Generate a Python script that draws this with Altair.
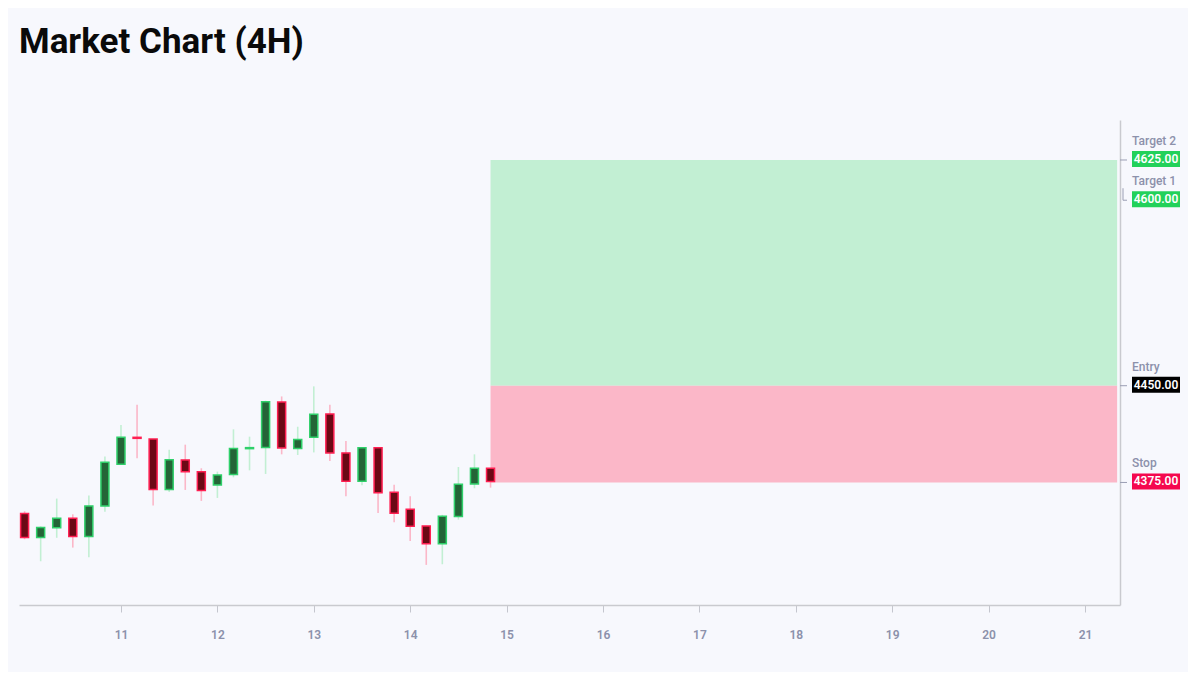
import altair as alt
import pandas as pd

# ---- data ----
opens  = [4350.9, 4332.3, 4339.8, 4347.2, 4333.1, 4356.8, 4389.1, 4410.0, 4408.7, 4369.5,
          4392.5, 4383.4, 4373.1, 4381.1, 4401.2, 4402.2, 4437.4, 4401.4, 4410.0, 4428.1,
          4397.9, 4375.9, 4402.0, 4367.4, 4354.2, 4341.3, 4327.4, 4348.6, 4373.9, 4386.0]
closes = [4332.3, 4340.0, 4347.2, 4333.1, 4356.8, 4390.6, 4410.0, 4409.2, 4369.5, 4392.7,
          4383.4, 4368.7, 4380.8, 4401.4, 4402.0, 4437.6, 4401.8, 4408.4, 4427.8, 4397.9,
          4375.9, 4402.0, 4367.1, 4351.1, 4341.0, 4327.4, 4348.8, 4373.6, 4386.0, 4375.7]
highs  = [4352.7, 4341.0, 4362.5, 4350.3, 4364.8, 4395.2, 4419.6, 4435.3, 4408.7, 4400.4,
          4404.3, 4386.0, 4383.4, 4416.2, 4410.5, 4438.4, 4441.7, 4418.2, 4449.5, 4435.3,
          4407.2, 4402.0, 4402.0, 4373.3, 4364.3, 4341.3, 4349.9, 4387.0, 4396.8, 4386.0]
lows   = [4331.0, 4313.9, 4332.1, 4324.5, 4317.0, 4352.2, 4389.1, 4393.7, 4357.1, 4367.7,
          4369.2, 4360.7, 4363.0, 4379.0, 4384.4, 4381.6, 4396.8, 4396.3, 4398.3, 4391.7,
          4364.3, 4372.8, 4351.4, 4344.1, 4329.7, 4311.1, 4311.6, 4346.2, 4370.5, 4371.0]
start_day = 10          # first candle: day 10, 00:00
bar_hours = 4

day_ticks = [11, 12, 13, 14, 15, 16, 17, 18, 19, 20, 21]

level_names  = ["Target 2", "Target 1", "Entry", "Stop"]
level_values = [4625, 4600, 4450, 4375]
level_colors = ["#22D15A", "#22D15A", "#000000", "#F5084E"]
level_shift  = [0, 1, 0, 0]      # 1 = label pushed down to avoid overlap

zone_start = 10 + 29 * 4 / 24    # last candle (day 14, 20:00)
zone_end = 21 + 8 / 24           # day 21, 08:00

# ---- tables ----
t = [start_day + i * bar_hours / 24 for i in range(len(opens))]
candles = pd.DataFrame({"t": t, "open": opens, "close": closes, "high": highs, "low": lows})
candles["dir"] = ["up" if c >= o else "down" for o, c in zip(opens, closes)]

zones = pd.DataFrame({
    "x": [zone_start, zone_start], "x2": [zone_end, zone_end],
    "y": [level_values[2], level_values[3]], "y2": [level_values[0], level_values[2]],
    "kind": ["profit", "loss"],
})
levels = pd.DataFrame({"name": level_names, "value": level_values,
                       "color": level_colors, "shift": level_shift})

W, H = 1101, 485
BG = "#F7F8FD"
GREY_TXT = "#8C91AB"
GREY_LINE = "#9A9EB3"

xscale = alt.Scale(domain=[9.942, 21.363], nice=False, zero=False, padding=0)
yscale = alt.Scale(domain=[4280, 4656], nice=False, zero=False, padding=0)

xaxis = alt.Axis(values=day_ticks, title=None, grid=False, format="d",
                 labelColor=GREY_TXT, labelFontSize=12, labelFontWeight=600,
                 labelFont="Roboto", labelPadding=17, tickColor="#C4C6CE",
                 tickSize=7, tickWidth=1, domainColor="#C9CACF", domainWidth=1.5)
yaxis = alt.Axis(orient="right", labels=False, ticks=False, grid=False, title=None,
                 domainColor="#C9CACF", domainWidth=1.5)

zone_layer = alt.Chart(zones).mark_rect().encode(
    x=alt.X("x:Q", scale=xscale, axis=xaxis),
    x2="x2:Q",
    y=alt.Y("y:Q", scale=yscale, axis=yaxis),
    y2="y2:Q",
    color=alt.Color("kind:N", scale=alt.Scale(domain=["profit", "loss"],
                                              range=["#C2EFD3", "#FBB7C8"]), legend=None),
)

wicks = alt.Chart(candles).mark_rule(strokeWidth=1.6).encode(
    x=alt.X("t:Q", scale=xscale),
    y=alt.Y("low:Q", scale=yscale),
    y2="high:Q",
    color=alt.Color("dir:N", scale=alt.Scale(domain=["up", "down"],
                                             range=["#5FD485", "#FF3F6F"]), legend=None),
)

bodies = alt.Chart(candles).mark_bar(size=8, strokeWidth=1.5).encode(
    x=alt.X("t:Q", scale=xscale),
    y=alt.Y("open:Q", scale=yscale),
    y2="close:Q",
    fill=alt.Fill("dir:N", scale=alt.Scale(domain=["up", "down"],
                                           range=["#246437", "#6B0915"]), legend=None),
    stroke=alt.Stroke("dir:N", scale=alt.Scale(domain=["up", "down"],
                                               range=["#2FD06A", "#FF1F52"]), legend=None),
)

lv = alt.Chart(levels)
plain = "datum.shift == 0"
moved = "datum.shift > 0"

ticks = lv.mark_rule(color=GREY_LINE, strokeWidth=1).encode(
    x=alt.value(W), x2=alt.value(W + 7),
    y=alt.Y("value:Q", scale=yscale),
).transform_filter(plain)

elbow_v = lv.mark_rule(color=GREY_LINE, strokeWidth=1, yOffset=-4, y2Offset=8).encode(
    x=alt.value(W + 3),
    y=alt.Y("value:Q", scale=yscale), y2="value:Q",
).transform_filter(moved)
elbow_h = lv.mark_rule(color=GREY_LINE, strokeWidth=1, yOffset=8).encode(
    x=alt.value(W + 3), x2=alt.value(W + 7),
    y=alt.Y("value:Q", scale=yscale),
).transform_filter(moved)

def box_layer(flt, off):
    return lv.mark_rect(yOffset=-9 + off, y2Offset=7 + off).encode(
        x=alt.value(W + 12), x2=alt.value(W + 60),
        y=alt.Y("value:Q", scale=yscale), y2="value:Q",
        color=alt.Color("color:N", scale=None),
    ).transform_filter(flt)

def value_text(flt, off):
    return lv.mark_text(align="center", baseline="middle", color="white", fontSize=12,
                        fontWeight=600, font="Roboto", dy=-1 + off).encode(
        x=alt.value(W + 36),
        y=alt.Y("value:Q", scale=yscale),
        text=alt.Text("value:Q", format=".2f"),
    ).transform_filter(flt)

def name_text(flt, off):
    return lv.mark_text(align="left", baseline="middle", color=GREY_TXT, fontSize=12,
                        fontWeight=500, font="Roboto", dy=-19 + off).encode(
        x=alt.value(W + 12),
        y=alt.Y("value:Q", scale=yscale),
        text="name:N",
    ).transform_filter(flt)

chart = alt.layer(
    zone_layer, wicks, bodies, ticks, elbow_v, elbow_h,
    box_layer(plain, 0), box_layer(moved, 8),
    value_text(plain, 0), value_text(moved, 8),
    name_text(plain, 0), name_text(moved, 8),
).properties(
    width=W, height=H,
    background=BG,
    padding={"left": 11, "top": 17, "right": 8, "bottom": 32},
    title=alt.TitleParams("Market Chart (4H)", anchor="start", fontSize=35, font="Roboto",
                          fontWeight="bold", color="#0A0A0A", offset=60, frame="group"),
).configure_view(stroke=None)

chart.save("out.html", embed_options={"renderer": "svg", "actions": False})
